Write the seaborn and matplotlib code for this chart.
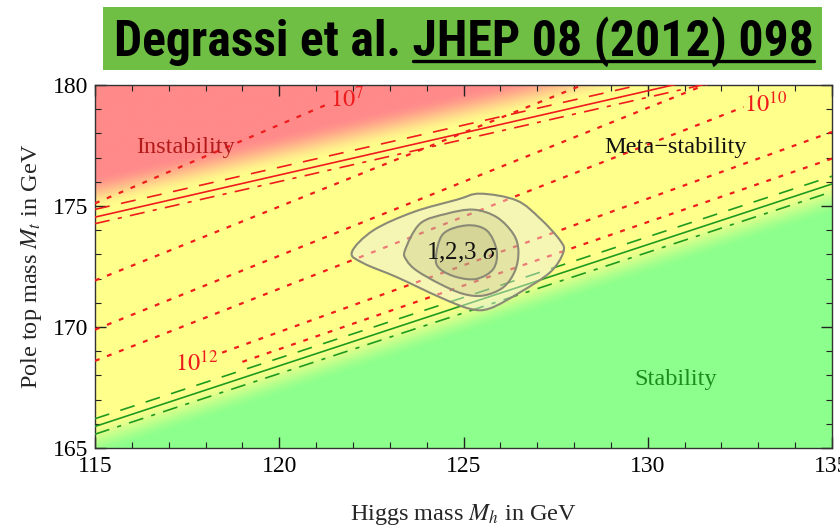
import os
import numpy as np
import pandas as pd
import matplotlib
matplotlib.use("Agg")
import matplotlib.pyplot as plt
import seaborn as sns
from matplotlib.path import Path
from matplotlib.patches import PathPatch, Rectangle
from matplotlib.lines import Line2D
from matplotlib import font_manager
from matplotlib.font_manager import FontProperties

# ---------------- data ----------------
mh_limits = [115, 135]
mt_limits = [165, 180]
x_ticks = [115, 120, 125, 130, 135]
y_ticks = [165, 170, 175, 180]

# instability boundary (red) and stability boundary (green): Mt = a + b*(Mh-115)
red_intercept = 174.54
red_slope = 0.348
red_offsets = [0.32, 0.0, -0.27]      # dashed, solid, dash-dot
green_intercept = 165.89
green_slope = 0.501
green_offsets = [0.32, 0.0, -0.32]

# dotted instability-scale contours
lam_intercepts = [175.11, 171.92, 169.89, 168.60, 167.04, 166.46]
lam_slopes = [0.649, 0.611, 0.611, 0.596, 0.551, 0.525]
lam_start = [115.0, 115.0, 115.0, 115.0, 118.45, 119.0]
lam_end = [121.3, 135.0, 135.0, 132.6, 135.0, 135.0]
lam_labels = [r"$10^{7}$", r"$10^{10}$", r"$10^{12}$"]
lam_label_mh = [121.85, 133.2, 117.75]
lam_label_mt = [179.4, 179.2, 168.5]

# 1,2,3 sigma contours (outer -> inner)
sigma3_mh = [121.97, 122.55, 123.64, 124.82, 125.45, 126.44, 127.08, 127.62,
             127.71, 127.35, 126.53, 125.72, 125.18, 124.36, 123.19, 122.28]
sigma3_mt = [173.09, 173.99, 174.75, 175.26, 175.51, 175.23, 174.48, 173.58,
             173.09, 172.26, 171.43, 170.77, 170.75, 171.23, 172.06, 172.64]
sigma2_mh = [123.41, 123.82, 124.54, 125.27, 125.90, 126.35, 126.49, 126.40,
             126.08, 125.54, 124.99, 124.36, 123.73, 123.46]
sigma2_mt = [173.16, 174.27, 174.68, 174.85, 174.54, 173.85, 173.16, 172.33,
             171.64, 171.30, 171.37, 171.78, 172.33, 172.75]
sigma1_mh = [124.25, 124.45, 125.09, 125.63, 125.90, 125.81, 125.36, 124.82, 124.36]
sigma1_mt = [172.88, 173.85, 174.20, 173.99, 173.16, 172.40, 171.99, 172.06, 172.40]

region_labels = ["Instability", "Meta\u2212stability", "Stability"]
region_mh = [117.45, 130.75, 130.75]
region_mt = [177.4, 177.4, 167.85]
region_colors = ["#b31b1b", "#111111", "#1d8c1d"]

sigma_label = r"1,2,3 $\sigma$"
sigma_label_pos = (124.96, 173.08)

title_plain = "Degrassi et al. "
title_link = "JHEP 08 (2012) 098"

# ---------------- styling ----------------
sns.set_theme(style="ticks")
plt.rcParams["font.family"] = ["Liberation Serif", "DejaVu Serif"]
plt.rcParams["mathtext.fontset"] = "stix"

RED_BG = np.array([255, 138, 138]) / 255
YEL_BG = np.array([255, 255, 140]) / 255
GRN_BG = np.array([140, 255, 140]) / 255
RED_LINE = "#ee1c1c"
GRN_LINE = "#1f9a1f"

W, H = 840, 528
fig = plt.figure(figsize=(W / 100, H / 100), dpi=100, facecolor="white")
ax = fig.add_axes([95 / W, 1 - 448 / H, 737 / W, 363 / H])


def smoothstep(t):
    t = np.clip(t, 0, 1)
    return t * t * (3 - 2 * t)


# background shading
gx = np.linspace(mh_limits[0], mh_limits[1], 500)
gy = np.linspace(mt_limits[0], mt_limits[1], 400)
MH, MT = np.meshgrid(gx, gy)
red_b = red_intercept + red_slope * (MH - 115)
grn_b = green_intercept + green_slope * (MH - 115)
wr = smoothstep((MT - red_b - 0.25) / 1.5)
wg = smoothstep((grn_b + 0.2 - MT) / 1.5)
wy = 1 - wr - wg
img = (wr[..., None] * RED_BG + wg[..., None] * GRN_BG + wy[..., None] * YEL_BG)
ax.imshow(img, extent=[mh_limits[0], mh_limits[1], mt_limits[0], mt_limits[1]],
          origin="lower", aspect="auto", interpolation="bilinear", zorder=0)

# boundary lines
styles = [(0, (9, 7)), "-", (0, (9, 5, 2.5, 5))]
xs = np.array(mh_limits, dtype=float)
for off, ls in zip(red_offsets, styles):
    ys = red_intercept + off + red_slope * (xs - 115)
    sns.lineplot(x=xs, y=ys, ax=ax, color=RED_LINE, linestyle=ls, lw=1.2, zorder=3)
for off, ls in zip(green_offsets, styles):
    ys = green_intercept + off + green_slope * (xs - 115)
    sns.lineplot(x=xs, y=ys, ax=ax, color=GRN_LINE, linestyle=ls, lw=1.2, zorder=3)

# dotted contours
for a, b, s, e in zip(lam_intercepts, lam_slopes, lam_start, lam_end):
    lx = np.array([s, e])
    ly = a + b * (lx - 115)
    sns.lineplot(x=lx, y=ly, ax=ax, color=RED_LINE, linestyle=(0, (2.2, 3.6)),
                 lw=1.6, zorder=3)


# sigma contours
def smooth_closed_path(xv, yv):
    P = np.column_stack([xv, yv])
    n = len(P)
    verts = [P[0]]
    codes = [Path.MOVETO]
    for i in range(n):
        p0, p1, p2, p3 = P[i - 1], P[i], P[(i + 1) % n], P[(i + 2) % n]
        verts += [p1 + (p2 - p0) / 6, p2 - (p3 - p1) / 6, p2]
        codes += [Path.CURVE4] * 3
    return Path(verts, codes)


fills = [(0.93, 0.93, 0.90, 0.45), (0.55, 0.55, 0.35, 0.17), (0.55, 0.55, 0.35, 0.17)]
for (cx, cy), fc in zip([(sigma3_mh, sigma3_mt), (sigma2_mh, sigma2_mt),
                         (sigma1_mh, sigma1_mt)], fills):
    ax.add_patch(PathPatch(smooth_closed_path(cx, cy), facecolor=fc,
                           edgecolor="#8a8a76", lw=1.5, zorder=4))

# texts
for t, x, y, c in zip(region_labels, region_mh, region_mt, region_colors):
    ax.text(x, y, t, color=c, fontsize=17.5, ha="center", va="center", zorder=6)
ax.text(sigma_label_pos[0], sigma_label_pos[1], sigma_label, fontsize=18,
        ha="center", va="center", color="#111111", zorder=6)
for t, x, y in zip(lam_labels, lam_label_mh, lam_label_mt):
    ax.text(x, y, t, color=RED_LINE, fontsize=17.5, ha="center", va="center", zorder=6)

# axes
ax.set_xlim(*mh_limits)
ax.set_ylim(*mt_limits)
ax.set_xticks(x_ticks)
ax.set_yticks(y_ticks)
ax.set_xticks(np.arange(mh_limits[0], mh_limits[1] + 1, 1), minor=True)
ax.set_yticks(np.arange(mt_limits[0], mt_limits[1] + 1, 1), minor=True)
ax.tick_params(which="both", direction="in", top=True, right=True, colors="#222222",
               labelcolor="black")
ax.tick_params(which="major", length=8, width=1.0, labelsize=17)
ax.tick_params(which="minor", length=4.5, width=0.8)
ax.tick_params(axis="x", which="major", pad=6)
ax.tick_params(axis="y", which="major", pad=5)
for sp in ax.spines.values():
    sp.set_color("#333333")
    sp.set_linewidth(1.0)
ax.set_xlabel(r"Higgs mass $M_h$ in GeV", fontsize=17.5, labelpad=18)
ax.set_ylabel(r"Pole top mass $M_t$ in GeV", fontsize=17.5, labelpad=6)
ax.grid(False)

# title banner
fig.add_artist(Rectangle((103 / W, 1 - 70 / H), 719 / W, 63 / H, transform=fig.transFigure,
                         facecolor="#6fbf44", edgecolor="none", zorder=1))


def pick_title_font():
    files = [f.fname for f in font_manager.fontManager.ttflist]
    prefs = ["LiberationSansNarrow-Bold.", "ArialNarrow", "RobotoCondensed-Bold",
             "DejaVuSansCondensed-Bold.", "OpenSans_Condensed-Bold", "OpenSansCondensed-Bold"]
    for p in prefs:
        for fn in files:
            if p.lower() in os.path.basename(fn).lower():
                return FontProperties(fname=fn)
    return FontProperties(family="Liberation Sans", weight="bold")


tprop = pick_title_font()
fig.canvas.draw()
r = fig.canvas.get_renderer()
tprop.set_size(30)
probe = fig.text(0, 0, title_plain + title_link, fontproperties=tprop)
wfull = probe.get_window_extent(r).width
probe.remove()
fs = min(30 * 700 / wfull, 36)
tprop.set_size(fs)
full = fig.text(464 / W, 1 - 56 / H, title_plain + title_link, fontproperties=tprop,
                ha="center", va="baseline", color="black", zorder=2)
bb = full.get_window_extent(r)
probe2 = fig.text(0, 0, title_link, fontproperties=tprop)
w2 = probe2.get_window_extent(r).width
probe2.remove()
yu = 1 - 61 / H
fig.add_artist(Line2D([(bb.x1 - w2) / W, bb.x1 / W], [yu, yu], transform=fig.transFigure,
                      color="black", lw=2.4, zorder=2))

fig.savefig("out.png", dpi=100, facecolor="white")
